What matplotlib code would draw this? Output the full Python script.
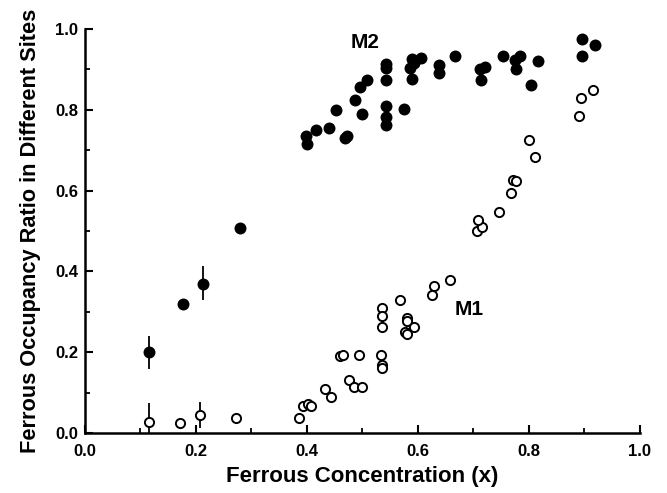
import numpy as np
import matplotlib
matplotlib.use("Agg")
import matplotlib.pyplot as plt
from matplotlib.ticker import MultipleLocator

# M2 site (filled circles)
m2_x = [0.116, 0.176, 0.212, 0.279,
        0.399, 0.400, 0.417, 0.440, 0.453, 0.468, 0.473, 0.486, 0.495, 0.509, 0.500,
        0.543, 0.543, 0.543, 0.543, 0.543, 0.543,
        0.575, 0.589, 0.592, 0.586, 0.590, 0.605, 0.637, 0.638, 0.667,
        0.712, 0.721, 0.714, 0.754, 0.775, 0.783, 0.776, 0.816, 0.803,
        0.895, 0.919, 0.896]
m2_y = [0.200, 0.319, 0.369, 0.508,
        0.734, 0.716, 0.749, 0.756, 0.800, 0.730, 0.736, 0.825, 0.857, 0.873, 0.790,
        0.914, 0.904, 0.873, 0.809, 0.782, 0.763,
        0.803, 0.925, 0.916, 0.904, 0.877, 0.927, 0.912, 0.891, 0.933,
        0.902, 0.905, 0.873, 0.933, 0.924, 0.933, 0.900, 0.922, 0.862,
        0.976, 0.960, 0.933]

# M1 site (open circles)
m1_x = [0.116, 0.172, 0.207, 0.272, 0.386, 0.393, 0.402, 0.407, 0.432, 0.443,
        0.459, 0.464, 0.476, 0.485, 0.499, 0.493,
        0.536, 0.536, 0.536, 0.533, 0.535, 0.535,
        0.568, 0.581, 0.581, 0.577, 0.580, 0.593, 0.628, 0.626, 0.658,
        0.706, 0.715, 0.708, 0.746, 0.768, 0.771, 0.777, 0.811, 0.800,
        0.891, 0.894, 0.916]
m1_y = [0.027, 0.024, 0.045, 0.038, 0.038, 0.068, 0.073, 0.067, 0.108, 0.090,
        0.190, 0.192, 0.130, 0.115, 0.115, 0.193,
        0.309, 0.290, 0.263, 0.193, 0.168, 0.162,
        0.330, 0.284, 0.276, 0.251, 0.245, 0.263, 0.363, 0.342, 0.379,
        0.499, 0.509, 0.528, 0.548, 0.594, 0.627, 0.623, 0.682, 0.724,
        0.784, 0.829, 0.848]

# error bars (only the low-concentration points carry them)
m2_err_x = [0.116, 0.212]
m2_err_y = [0.200, 0.372]
m2_err = [0.041, 0.042]
m1_err_x = [0.116, 0.207]
m1_err_y = [0.027, 0.045]
m1_err = [0.048, 0.032]

plt.rcParams['font.family'] = ['Liberation Sans', 'DejaVu Sans']
plt.rcParams['font.weight'] = 'bold'

fig = plt.figure(figsize=(6.67, 4.93), dpi=100)
ax = fig.add_axes([0.1274, 0.1217, 0.8321, 0.8195])

ax.errorbar(m2_err_x, m2_err_y, yerr=m2_err, fmt='none', ecolor='black', elinewidth=1.3, capsize=0)
ax.errorbar(m1_err_x, m1_err_y, yerr=m1_err, fmt='none', ecolor='black', elinewidth=1.3, capsize=0)
ax.plot(m2_x, m2_y, 'o', color='black', markersize=8.6, markeredgewidth=0, clip_on=False)
ax.plot(m1_x, m1_y, 'o', markerfacecolor='white', markeredgecolor='black',
        markersize=6.6, markeredgewidth=1.4, clip_on=False)

ax.text(0.505, 0.966, "M2", ha='center', va='center', fontsize=15, fontweight='bold')
ax.text(0.692, 0.305, "M1", ha='center', va='center', fontsize=15, fontweight='bold')

ax.set_xlim(0, 1.0)
ax.set_ylim(0, 1.0)
ax.xaxis.set_major_locator(MultipleLocator(0.2))
ax.xaxis.set_minor_locator(MultipleLocator(0.1))
ax.yaxis.set_major_locator(MultipleLocator(0.2))
ax.yaxis.set_minor_locator(MultipleLocator(0.1))
ax.xaxis.set_major_formatter(matplotlib.ticker.FormatStrFormatter('%.1f'))
ax.yaxis.set_major_formatter(matplotlib.ticker.FormatStrFormatter('%.1f'))

ax.spines['top'].set_visible(False)
ax.spines['right'].set_visible(False)
ax.spines['left'].set_linewidth(1.8)
ax.spines['bottom'].set_linewidth(1.8)
ax.tick_params(which='major', direction='in', length=6, width=1.5, labelsize=12)
ax.tick_params(axis='x', which='major', pad=8)
ax.tick_params(axis='y', which='major', pad=5)
ax.tick_params(which='minor', direction='in', length=3.5, width=1.3)
for lbl in ax.get_xticklabels() + ax.get_yticklabels():
    lbl.set_fontweight('bold')

ax.set_xlabel("Ferrous Concentration (x)", fontsize=16, fontweight='bold', labelpad=5)
ax.set_ylabel("Ferrous Occupancy Ratio in Different Sites", fontsize=15.7, fontweight='bold', labelpad=10)

fig.savefig("out.png", dpi=100)
